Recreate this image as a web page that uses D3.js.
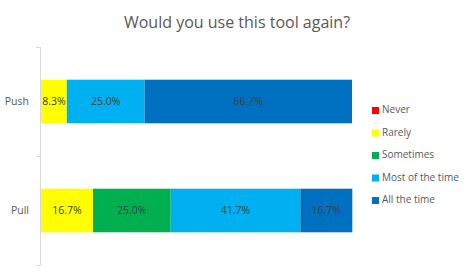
<!DOCTYPE html>
<html>
<head>
<meta charset="utf-8">
<script src="https://cdn.jsdelivr.net/npm/d3@7"></script>
<style>
  body { margin: 0; background: #fff; }
  text { font-family: "Open Sans", sans-serif; }
</style>
</head>
<body>
<svg width="474" height="279"></svg>
<script>
  var groups = ["Push", "Pull"];
  var answers = ["Never", "Rarely", "Sometimes", "Most of the time", "All the time"];
  var colors = ["#FF0000", "#FFFF00", "#00B050", "#00B0F0", "#0070C0"];
  var pushValues = [0, 8.3, 0, 25.0, 66.7];
  var pullValues = [0, 16.7, 25.0, 41.7, 16.7];

  var svg = d3.select("svg"),
      margin = {top: 47, right: 123, bottom: 14, left: 40},
      width = svg.attr("width") - margin.left - margin.right,
      height = svg.attr("height") - margin.top - margin.bottom,
      g = svg.append("g").attr("transform", "translate(" + margin.left + "," + margin.top + ")");

  var rows = groups.map(function(name, i) {
    var vals = i === 0 ? pushValues : pullValues;
    var row = {group: name};
    answers.forEach(function(a, j) { row[a] = vals[j]; });
    return row;
  });

  var series = d3.stack().keys(answers)(rows);

  var x = d3.scaleLinear().domain([0, 100]).range([0, width]),
      y = d3.scaleBand().domain(groups).range([0, height]).paddingInner(0.6).paddingOuter(0.3),
      z = d3.scaleOrdinal().domain(answers).range(colors);

  svg.append("text")
      .attr("x", 237)
      .attr("y", 28)
      .attr("text-anchor", "middle")
      .attr("fill", "#595959")
      .style("font-size", "16px")
      .text("Would you use this tool again?");

  // axis: line plus ticks at band edges
  var edges = [0, height / 2, height];
  g.append("line")
      .attr("x1", 0.5).attr("x2", 0.5)
      .attr("y1", 0).attr("y2", height)
      .attr("stroke", "#d9d9d9");
  g.selectAll(".tick")
      .data(edges)
      .enter().append("line")
      .attr("class", "tick")
      .attr("x1", -4).attr("x2", 0.5)
      .attr("y1", function(d) { return Math.round(d) + 0.5; })
      .attr("y2", function(d) { return Math.round(d) + 0.5; })
      .attr("stroke", "#d9d9d9");

  g.selectAll(".cat")
      .data(groups)
      .enter().append("text")
      .attr("class", "cat")
      .attr("x", -11)
      .attr("y", function(d) { return y(d) + y.bandwidth() / 2; })
      .attr("dy", "0.35em")
      .attr("text-anchor", "end")
      .attr("fill", "#595959")
      .style("font-size", "10.5px")
      .text(function(d) { return d; });

  var layer = g.selectAll(".layer")
      .data(series)
      .enter().append("g")
      .attr("class", "layer")
      .attr("fill", function(d) { return z(d.key); });

  layer.selectAll("rect")
      .data(function(d) { return d; })
      .enter().append("rect")
      .attr("x", function(d) { return x(d[0]) + 1; })
      .attr("y", function(d) { return y(d.data.group); })
      .attr("width", function(d) { return x(d[1]) - x(d[0]); })
      .attr("height", y.bandwidth());

  layer.selectAll(".lbl")
      .data(function(d) { return d.filter(function(p) { return p[1] - p[0] > 0; }); })
      .enter().append("text")
      .attr("class", "lbl")
      .attr("x", function(d) { return x((d[0] + d[1]) / 2) + 1; })
      .attr("y", function(d) { return y(d.data.group) + y.bandwidth() / 2; })
      .attr("dy", "0.35em")
      .attr("text-anchor", "middle")
      .attr("fill", "#404040")
      .style("font-size", "10.5px")
      .text(function(d) { return (d[1] - d[0]).toFixed(1) + "%"; });

  var legend = svg.selectAll(".legend")
      .data(answers)
      .enter().append("g")
      .attr("class", "legend")
      .attr("transform", function(d, i) { return "translate(372," + (110 + i * 22.5) + ")"; });

  legend.append("rect")
      .attr("x", 0).attr("y", -3)
      .attr("width", 7).attr("height", 7)
      .attr("fill", function(d) { return z(d); });

  legend.append("text")
      .attr("x", 10)
      .attr("y", 0)
      .attr("dy", "0.3em")
      .attr("fill", "#595959")
      .style("font-size", "10px")
      .text(function(d) { return d; });
</script>
</body>
</html>
